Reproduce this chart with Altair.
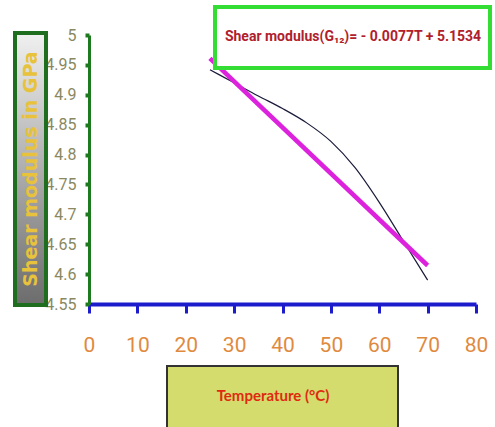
import altair as alt
import pandas as pd

# data
temperature = [25, 30, 35, 40, 45, 50, 55, 60, 65, 70]
shear_modulus = [4.942, 4.920, 4.898, 4.877, 4.853, 4.822, 4.778, 4.720, 4.655, 4.590]
fit_temperature = [25, 70]
fit_values = [5.1534 - 0.0077 * t for t in fit_temperature]
y_ticks = [4.55, 4.6, 4.65, 4.7, 4.75, 4.8, 4.85, 4.9, 4.95, 5.0]
x_ticks = [0, 10, 20, 30, 40, 50, 60, 70, 80]

curve = pd.DataFrame({"T": temperature, "G": shear_modulus})
fit = pd.DataFrame({"T": fit_temperature, "G": fit_values})
one = pd.DataFrame({"a": [0]})

W, H = 387, 269

xscale = alt.Scale(domain=[0, 80], nice=False)
yscale = alt.Scale(domain=[4.55, 5.0], nice=False, zero=False)

xaxis = alt.Axis(
    values=x_ticks, title=None, grid=False, domainColor="#1c1ccc", domainWidth=4,
    tickColor="#1c1ccc", tickWidth=3, tickSize=9, labelColor="#e08a40",
    labelFontSize=21, labelFont="Roboto", labelPadding=21,
    labelFlush=False, labelOverlap=False)
yaxis = alt.Axis(
    values=y_ticks, format="~g", title=None, grid=False, domainColor="#1e7a1e",
    domainWidth=3, tickColor="#1e7a1e", tickWidth=4, tickSize=4,
    labelColor="#8a8860", labelFontSize=16, labelFont="Roboto",
    labelPadding=9, labelFlush=False, labelOverlap=False, labelBound=False)

black_line = alt.Chart(curve).mark_line(
    color="#1a1a3a", strokeWidth=1.2, interpolate="monotone"
).encode(x=alt.X("T:Q", scale=xscale, axis=xaxis),
         y=alt.Y("G:Q", scale=yscale, axis=yaxis))

magenta_line = alt.Chart(fit).mark_line(
    color="#dd22dd", strokeWidth=4.5
).encode(x=alt.X("T:Q", scale=xscale, axis=xaxis),
         y=alt.Y("G:Q", scale=yscale, axis=yaxis))

eq_box = alt.Chart(one).mark_rect(
    fill="white", stroke="#33dd33", strokeWidth=4
).encode(x=alt.value(126), x2=alt.value(401), y=alt.value(-28), y2=alt.value(33))

eq_text = alt.Chart(one).mark_text(
    text="Shear modulus(G₁₂)= - 0.0077T + 5.1534", color="#b0202c",
    font="Roboto", fontWeight="bold", fontSize=14,
    align="center", baseline="middle"
).encode(x=alt.value(264), y=alt.value(2))

ybox = alt.Chart(one).mark_rect(
    stroke="#1f6e1f", strokeWidth=4,
    fill=alt.Gradient(gradient="linear", x1=0, y1=0, x2=0, y2=1,
                      stops=[alt.GradientStop(color="#f0f0f0", offset=0),
                             alt.GradientStop(color="#6c6c6c", offset=1)])
).encode(x=alt.value(-74), x2=alt.value(-43), y=alt.value(-2), y2=alt.value(270))

ytitle = alt.Chart(one).mark_text(
    text="Shear modulus in GPa", color="#e8c23a", font="DejaVu Sans",
    fontWeight="bold", fontSize=19, angle=270, align="center", baseline="middle"
).encode(x=alt.value(-58), y=alt.value(134))

xbox = alt.Chart(one).mark_rect(
    fill="#d3dc6c", stroke="#333333", strokeWidth=2
).encode(x=alt.value(78), x2=alt.value(309), y=alt.value(331), y2=alt.value(395))

xtitle = alt.Chart(one).mark_text(
    text="Temperature (°C)", color="#e02a10", font="Lato", fontWeight="bold",
    fontSize=15, align="center", baseline="middle"
).encode(x=alt.value(184), y=alt.value(361))

chart = alt.layer(
    black_line, magenta_line, eq_box, eq_text, ybox, ytitle, xbox, xtitle
).properties(
    width=W, height=H,
    autosize=alt.AutoSizeParams(type="none"),
    padding={"left": 89, "top": 35, "right": 19, "bottom": 123},
    background="white"
).configure_view(stroke=None)

chart.save("out.html", embed_options={"renderer": "svg", "actions": False})
